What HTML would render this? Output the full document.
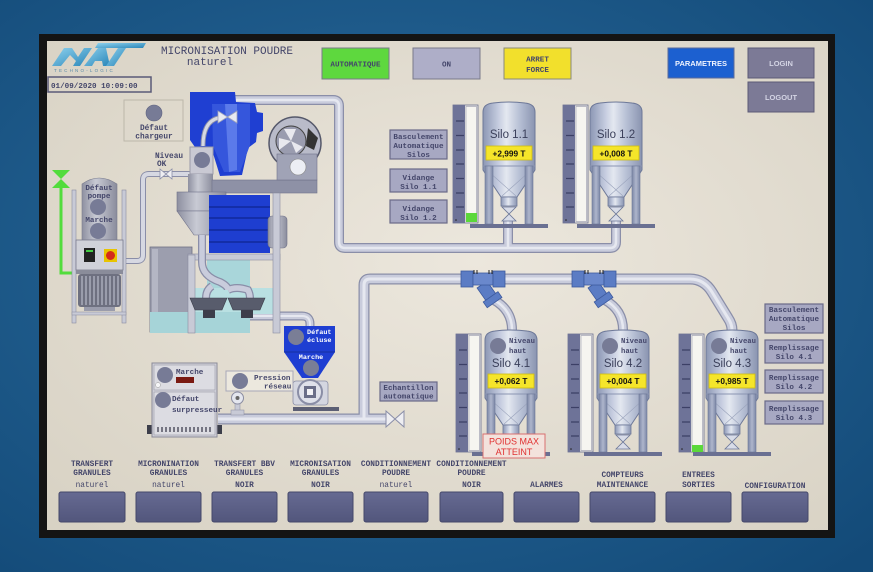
<!DOCTYPE html>
<html><head><meta charset="utf-8">
<style>
html,body{margin:0;padding:0;width:873px;height:572px;overflow:hidden;background:#1d5d8e;}
svg{display:block}
.m{font-family:"Liberation Mono",monospace;font-weight:bold;fill:#44466a}
.c{text-anchor:middle}
.s{font-family:"Liberation Sans",sans-serif}
.w{fill:#ffffff}
</style></head><body>
<svg width="873" height="572" viewBox="0 0 873 572" xmlns="http://www.w3.org/2000/svg" font-size="8">
<defs>
 <radialGradient id="bg" cx="0.45" cy="0.45" r="0.75">
  <stop offset="0" stop-color="#2a6c9e"/><stop offset="1" stop-color="#134a78"/>
 </radialGradient>
 <radialGradient id="scr" cx="0.55" cy="0.45" r="0.75">
  <stop offset="0" stop-color="#ece7dd"/><stop offset="1" stop-color="#d8d2c4"/>
 </radialGradient>
 <linearGradient id="sg" x1="0" x2="1" y1="0" y2="0">
  <stop offset="0" stop-color="#8c97b4"/><stop offset="0.3" stop-color="#c6cde0"/><stop offset="0.45" stop-color="#e4e8f0"/><stop offset="0.7" stop-color="#b7c0d5"/><stop offset="1" stop-color="#8a94b0"/>
 </linearGradient>
 <linearGradient id="leg" x1="0" x2="1" y1="0" y2="0">
  <stop offset="0" stop-color="#7c87a6"/><stop offset="0.5" stop-color="#aeb6cc"/><stop offset="1" stop-color="#7c87a6"/>
 </linearGradient>
 <linearGradient id="gray" x1="0" x2="1" y1="0" y2="0">
  <stop offset="0" stop-color="#8e90a0"/><stop offset="0.4" stop-color="#c8cad4"/><stop offset="1" stop-color="#8a8c9c"/>
 </linearGradient>
 <linearGradient id="nav" x1="0" x2="0" y1="0" y2="1">
  <stop offset="0" stop-color="#666a92"/><stop offset="1" stop-color="#52567c"/>
 </linearGradient>
 <linearGradient id="logo" x1="0" x2="1" y1="0" y2="1">
  <stop offset="0" stop-color="#8fd2ee"/><stop offset="1" stop-color="#2a86b8"/>
 </linearGradient>
 <g id="silo">
  <path d="M0,10 Q0,2 10,1 Q26,-1 42,1 Q52,2 52,10 L52,68 L34,95 L18,95 L0,68 Z" fill="url(#sg)" stroke="#6d7898" stroke-width="1"/>
  <path d="M0,64 L52,64" stroke="#8b95b2" stroke-width="1"/>
  <path d="M6,70 L33,94 M46,70 L19,94" stroke="#9aa3bc" stroke-width="0.6"/>
  <rect x="18" y="95" width="16" height="9" fill="url(#sg)" stroke="#6d7898" stroke-width="0.8"/>
  <path d="M19,105 L33,105 L26,112 Z M19,119 L33,119 L26,112 Z" fill="#d8dce8" stroke="#6d7898" stroke-width="0.8"/>
  <rect x="2" y="64" width="8" height="58" fill="url(#leg)" stroke="#6d7898" stroke-width="0.6"/>
  <rect x="42" y="64" width="8" height="58" fill="url(#leg)" stroke="#6d7898" stroke-width="0.6"/>
  <rect x="-13" y="122" width="78" height="4" fill="#6a7092"/>
  <rect x="3" y="44" width="46" height="14" fill="#f5e52a" stroke="#cdbb10" stroke-width="0.8"/>
 </g>
 <g id="bar">
  <rect x="0" y="0" width="25" height="118" fill="#ebe9e4" stroke="#6a6f90" stroke-width="0.8"/>
  <rect x="0" y="0" width="12" height="118" fill="#6e7398"/>
  <rect x="13" y="1.5" width="10.5" height="115" fill="#f6f5f0" stroke="#9a9cb0" stroke-width="0.6"/>
  <path d="M3,16 H11 M3,30.5 H11 M3,45 H11 M3,59 H11 M3,73.5 H11 M3,88 H11 M3,102 H11" stroke="#3c4066" stroke-width="1.2"/>
  <circle cx="3" cy="115" r="0.8" fill="#222"/>
 </g>
 <g id="yfit">
  <g transform="translate(490,296) rotate(-35)" fill="#5b7cc4" stroke="#3d5a9e" stroke-width="0.8">
   <rect x="-6" y="-14" width="12" height="16"/>
   <rect x="-9" y="1" width="18" height="7"/>
  </g>
  <rect x="461" y="271" width="12" height="16" fill="#5b7cc4" stroke="#3d5a9e" stroke-width="0.8"/>
  <rect x="473" y="273" width="20" height="12" fill="#6a88cc" stroke="#3d5a9e" stroke-width="0.8"/>
  <rect x="493" y="271" width="12" height="16" fill="#5b7cc4" stroke="#3d5a9e" stroke-width="0.8"/>
  <path d="M474,270 V274 M477,270 V274 M489,270 V274 M492,270 V274" stroke="#222" stroke-width="1"/>
 </g>
 <path id="p1" d="M202,148 L202,106 Q202,100 208,100 L333,100 Q339,100 339,106 L339,242 Q339,248 345,248 L610,248 Q616,248 616,242 L616,220 M508,248 L508,220"/>
 <path id="p2" d="M218,419 L390,419 M364,419 L364,285 Q364,279 370,279 L690,279 Q704,279 712,292 L728,318 Q732,324 732,330"/>
 <path id="p3" d="M494,300 Q512,310 512,330 M605,300 Q623,310 623,330"/>
 <path id="p4" d="M126,261 L137,261 Q143,261 143,255 L143,180 Q143,174 149,174 L192,174"/>
 <path id="p5" d="M250,316 L302,316 Q310,316 310,324 L310,328"/>
</defs>

<!-- background -->
<rect x="0" y="0" width="873" height="572" fill="url(#bg)"/>
<rect x="39" y="34" width="796" height="504" fill="#141414"/>
<rect x="47" y="41" width="781" height="489" fill="url(#scr)"/>

<!-- logo -->
<polygon points="52,66 64,48 72,48 78,57 84,48 92,48 80,66 73,66 76,61 70,55 61,66" fill="url(#logo)"/>
<polygon points="84,66 98,48 106,48 110,66 103,66 102,61 95,61 92,66" fill="url(#logo)"/>
<polygon points="98,43 146,43 143,48 95,48" fill="url(#logo)"/>
<polygon points="118,48 126,48 114,66 106,66" fill="url(#logo)"/>
<text x="54" y="72" font-family="Liberation Sans" font-size="4.5" fill="#5a8aa8" letter-spacing="2.2">TECHNO-LOGIC</text>

<!-- title -->
<text x="227" y="54" class="m c" font-size="11" style="font-weight:normal">MICRONISATION POUDRE</text>
<text x="210" y="65" class="m c" font-size="11" style="font-weight:normal">naturel</text>

<!-- date -->
<rect x="48" y="77" width="103" height="15" fill="none" stroke="#5a5a78" stroke-width="1.5"/>
<text x="51" y="88" class="m" font-size="7.6">01/09/2020 10:09:00</text>

<!-- top buttons -->
<rect x="322" y="48" width="67" height="31" fill="#5ed83e" stroke="#7a7a8a"/>
<text x="355.5" y="66.5" class="m c" font-size="7.6">AUTOMATIQUE</text>
<rect x="413" y="48" width="67" height="31" fill="#aeaec8" stroke="#7a7a8a"/>
<text x="446.5" y="66.5" class="m c" font-size="7.6">ON</text>
<rect x="504" y="48" width="67" height="31" fill="#f2e02c" stroke="#8a8a7a"/>
<text x="537.5" y="61.5" class="m c" font-size="7.6">ARRET</text>
<text x="537.5" y="72" class="m c" font-size="7.6">FORCE</text>
<rect x="668" y="48" width="66" height="30" fill="#1c60d0" stroke="#5a6a9a"/>
<text x="701" y="66" class="s c" font-size="7.5" font-weight="bold" fill="#f0f4ff">PARAMETRES</text>
<rect x="748" y="48" width="66" height="30" fill="#7c7a96" stroke="#5c5a76"/>
<text x="781" y="66" class="s c" font-size="7.5" font-weight="bold" fill="#d4d4e4">LOGIN</text>
<rect x="748" y="82" width="66" height="30" fill="#7c7a96" stroke="#5c5a76"/>
<text x="781" y="100" class="s c" font-size="7.5" font-weight="bold" fill="#d4d4e4">LOGOUT</text>

<!-- défaut chargeur -->
<rect x="124" y="100" width="59" height="41" fill="none" stroke="#bcb7aa"/>
<circle cx="154" cy="113" r="8" fill="#777b96" stroke="#5e6280" stroke-width="0.6"/>
<text x="154" y="130" class="m c" font-size="7.8">Défaut</text>
<text x="154" y="138.5" class="m c" font-size="7.8">chargeur</text>

<!-- pipes -->
<g fill="none" stroke-linecap="butt" stroke-linejoin="round">
 <use href="#p1" stroke="#8a8ea8" stroke-width="10"/>
 <use href="#p1" stroke="#c9ccdc" stroke-width="7.5"/>
 <use href="#p1" stroke="#e6e8f0" stroke-width="2.5"/>
 <use href="#p2" stroke="#8a8ea8" stroke-width="11"/>
 <use href="#p2" stroke="#c9ccdc" stroke-width="8.5"/>
 <use href="#p2" stroke="#e6e8f0" stroke-width="3"/>
 <use href="#p3" stroke="#8a8ea8" stroke-width="10"/>
 <use href="#p3" stroke="#c9ccdc" stroke-width="7.5"/>
 <use href="#p3" stroke="#e6e8f0" stroke-width="2.5"/>
 <use href="#p4" stroke="#8a8ea8" stroke-width="6"/>
 <use href="#p4" stroke="#d6d8e2" stroke-width="4"/>
 <use href="#p5" stroke="#8a8ea8" stroke-width="9"/>
 <use href="#p5" stroke="#c9ccdc" stroke-width="6.5"/>
 <use href="#p5" stroke="#e6e8f0" stroke-width="2"/>
</g>

<!-- valve left line -->
<path d="M160,169 L172,179 L172,169 L160,179 Z" fill="#eeeef2" stroke="#8a8ea8" stroke-width="0.8"/>
<text x="155" y="158" class="m" font-size="7.8">Niveau</text>
<text x="157" y="166" class="m" font-size="7.8">OK</text>

<!-- blue cyclone -->
<polygon points="190,92 235,92 236,102 255,103 257,112 263,113 263,131 257,133 256,142 248,148 242,175 220,176 212,150 197,150 190,140" fill="#1f3fd2"/>
<polygon points="212,104 250,104 250,145 240,172 224,172 213,146" fill="#3556dc"/>
<polygon points="225,104 237,104 237,170 229,172" fill="#5b7aea"/>
<path d="M203,146 Q203,122 218,118" fill="none" stroke="#8a8ea8" stroke-width="5"/>
<path d="M203,146 Q203,122 218,118" fill="none" stroke="#d6d8e2" stroke-width="3"/>
<path d="M218,111 L237,123 L237,111 L218,123 Z" fill="#e8eaf2" stroke="#a0a4bc" stroke-width="0.8"/>

<!-- niveau ok box -->
<rect x="190" y="147" width="23" height="27" fill="#c9c9d3" stroke="#9a9aa8"/>
<circle cx="202" cy="160" r="8" fill="#777b96"/>
<rect x="188" y="174" width="25" height="18" fill="url(#gray)"/>

<!-- fan -->
<rect x="212" y="180" width="105" height="13" fill="#8e91a6" stroke="#70728a" stroke-width="0.6"/>
<circle cx="295" cy="143" r="26" fill="#b9bbc9" stroke="#55586a" stroke-width="1.5"/>
<circle cx="291" cy="141" r="15" fill="#9a9caf" stroke="#444" stroke-width="1"/>
<path d="M291,141 L284,129 L296,129 Z M291,141 L303,147 L296,153 Z M291,141 L279,150 L279,138 Z" fill="#e8e8ee"/>
<path d="M308,128 L318,138 L314,150 L306,146 Z" fill="#333"/>
<rect x="277" y="154" width="40" height="26" fill="#a0a3b6" stroke="#70728a" stroke-width="0.6"/>
<circle cx="298" cy="167" r="8" fill="#eceef4" stroke="#888" stroke-width="0.6"/>

<!-- grey hopper -->
<rect x="177" y="192" width="49" height="19" fill="url(#gray)" stroke="#70728a" stroke-width="0.6"/>
<polygon points="177,211 226,211 209,235 194,235" fill="url(#gray)" stroke="#70728a" stroke-width="0.6"/>

<!-- blue stack -->
<rect x="209" y="195" width="61" height="58" fill="#1e3ed0"/>
<path d="M209,207 H270 M209,218 H270 M209,230 H270 M209,242 H270" stroke="#11289a" stroke-width="1.5"/>
<rect x="268" y="216" width="19" height="32" rx="4" fill="url(#gray)" stroke="#70728a" stroke-width="0.6"/>

<!-- base frame -->
<rect x="150" y="247" width="42" height="85" fill="#9c9eae" stroke="#6e7084" stroke-width="0.8"/>
<rect x="152" y="249" width="6" height="80" fill="#b4b6c4"/>
<rect x="207" y="258" width="43" height="36" fill="#a9d6da"/>
<rect x="195" y="288" width="78" height="26" fill="#b9e0e2"/>
<rect x="150" y="312" width="100" height="21" fill="#a6d4d8"/>
<rect x="188" y="254" width="92" height="6" fill="#c8cad6" stroke="#8a8ca0" stroke-width="0.6"/>
<rect x="188" y="255" width="7" height="78" fill="#c8cad6" stroke="#8a8ca0" stroke-width="0.6"/>
<rect x="273" y="193" width="7" height="140" fill="#c8cad6" stroke="#8a8ca0" stroke-width="0.6"/>
<path d="M202,235 L202,262 Q202,276 220,282 Q228,286 228,290 M212,286 Q206,290 206,298 M228,290 Q236,286 248,290 Q250,294 250,298" fill="none" stroke="#8a8ea8" stroke-width="8"/>
<path d="M202,235 L202,262 Q202,276 220,282 Q228,286 228,290 M212,286 Q206,290 206,298 M228,290 Q236,286 248,290 Q250,294 250,298" fill="none" stroke="#c9ccdc" stroke-width="5.5"/>
<path d="M190,298 L227,298 L222,310 L195,310 Z M228,298 L265,298 L260,310 L233,310 Z" fill="#585c6c" stroke="#3c3e4a" stroke-width="0.6"/>
<rect x="203" y="310" width="12" height="8" fill="#3c3e4a"/>
<rect x="241" y="310" width="12" height="8" fill="#3c3e4a"/>

<!-- pump machine left -->
<polygon points="52,170 70,170 61,179" fill="#52dc3c"/>
<polygon points="52,188 70,188 61,179" fill="#52dc3c"/>
<path d="M61,188 L61,273 L76,273" fill="none" stroke="#52dc3c" stroke-width="3"/>
<rect x="72" y="190" width="4" height="133" fill="#c8cad6" stroke="#8a8ca0" stroke-width="0.6"/>
<rect x="122" y="190" width="4" height="133" fill="#c8cad6" stroke="#8a8ca0" stroke-width="0.6"/>
<path d="M82,184 Q99,172 117,184 L117,240 L82,240 Z" fill="url(#gray)" stroke="#7a7c8e" stroke-width="0.6"/>
<text x="99" y="190" class="m c" font-size="7.6">Défaut</text>
<text x="99" y="198" class="m c" font-size="7.6">pompe</text>
<circle cx="98" cy="207" r="8" fill="#777b96"/>
<text x="99" y="222" class="m c" font-size="7.6">Marche</text>
<circle cx="98" cy="231" r="8" fill="#777b96"/>
<rect x="76" y="240" width="47" height="30" fill="#d0d1d9" stroke="#7a7c8e" stroke-width="0.8"/>
<rect x="84" y="248" width="11" height="14" fill="#222"/>
<rect x="86" y="250" width="7" height="2" fill="#4c4"/>
<rect x="104" y="249" width="13" height="13" fill="#e8c400"/>
<circle cx="110.5" cy="255.5" r="4.5" fill="#d42a1a"/>
<rect x="76" y="270" width="47" height="4" fill="#8a8c9a"/>
<rect x="78" y="274" width="43" height="33" rx="3" fill="#6e7080"/>
<path d="M82,276 V305 M86,276 V305 M90,276 V305 M94,276 V305 M98,276 V305 M102,276 V305 M106,276 V305 M110,276 V305 M114,276 V305 M118,276 V305" stroke="#a6a8b6" stroke-width="1.6"/>
<rect x="84" y="307" width="31" height="4" fill="#9a9cac"/>
<rect x="72" y="312" width="54" height="3" fill="#c8cad6" stroke="#8a8ca0" stroke-width="0.5"/>

<!-- défaut écluse hopper -->
<polygon points="284,326 335,326 335,352 318,378 302,378 284,352" fill="#1e3ed2"/>
<path d="M284,352 L335,352" stroke="#1530a0" stroke-width="1"/>
<circle cx="296" cy="337" r="8" fill="#7a7e96"/>
<text x="307" y="334" class="m w" font-size="6.8">Défaut</text>
<text x="307" y="342" class="m w" font-size="6.8">écluse</text>
<text x="311" y="359" class="m w c" font-size="6.8">Marche</text>
<circle cx="311" cy="368" r="8" fill="#7a7e96"/>
<!-- pump -->
<rect x="293" y="381" width="35" height="24" rx="3" fill="#d4d6e0" stroke="#8a8ea6" stroke-width="0.8"/>
<circle cx="310" cy="392" r="12" fill="#dfe1ea" stroke="#8a8ea6" stroke-width="2"/>
<rect x="304" y="386" width="12" height="12" fill="#6a6e88"/>
<rect x="307" y="389" width="6" height="6" fill="#f2f2f6"/>
<rect x="293" y="407" width="46" height="4" fill="#5c5f74"/>

<!-- pression réseau -->
<rect x="226" y="371" width="67" height="20" fill="#ece8de" stroke="#a8a8b8"/>
<circle cx="240" cy="381" r="8" fill="#777b96"/>
<text x="254" y="380" class="m" font-size="7.6">Pression</text>
<text x="264" y="388.5" class="m" font-size="7.6">réseau</text>
<rect x="235" y="402" width="5" height="10" fill="#c8cad6" stroke="#8a8ca0" stroke-width="0.5"/>
<rect x="231" y="410" width="13" height="5" fill="#c8cad6" stroke="#8a8ca0" stroke-width="0.5"/>
<circle cx="237.5" cy="398" r="6" fill="#e4e6ee" stroke="#8a8ca0" stroke-width="1"/>
<circle cx="237.5" cy="398" r="2" fill="#666"/>

<!-- surpresseur -->
<rect x="147" y="425" width="6" height="9" fill="#3c3e4a"/>
<rect x="216" y="425" width="6" height="9" fill="#3c3e4a"/>
<rect x="152" y="363" width="65" height="74" fill="#d2d2da" stroke="#8a8a98"/>
<rect x="154" y="365" width="61" height="25" fill="#dcdce2" stroke="#9a9aa8" stroke-width="0.6"/>
<rect x="154" y="392" width="61" height="43" fill="#dcdce2" stroke="#9a9aa8" stroke-width="0.6"/>
<circle cx="165" cy="375" r="8" fill="#777b96"/>
<circle cx="158" cy="385" r="2.5" fill="#f6f6f8" stroke="#999" stroke-width="0.5"/>
<text x="176" y="374" class="m" font-size="7.6">Marche</text>
<rect x="176" y="377" width="18" height="6" fill="#7a1a12"/>
<circle cx="163" cy="400" r="8" fill="#777b96"/>
<text x="172" y="401" class="m" font-size="7.6">Défaut</text>
<text x="172" y="412" class="m" font-size="7.6">surpresseur</text>
<path d="M158,427 V432 M162,427 V432 M166,427 V432 M170,427 V432 M174,427 V432 M178,427 V432 M182,427 V432 M186,427 V432 M190,427 V432 M194,427 V432 M198,427 V432 M202,427 V432 M206,427 V432 M210,427 V432" stroke="#6a6a78" stroke-width="1.8"/>

<!-- end valve & échantillon -->
<path d="M386,411 L404,427 L404,411 L386,427 Z" fill="#eeeef2" stroke="#8a8ea8" stroke-width="1"/>
<rect x="380" y="382" width="57" height="19" fill="#a7a8c2" stroke="#6a6a88" stroke-width="1.2"/>
<text x="408.5" y="390" class="m c" font-size="7.6">Echantillon</text>
<text x="408.5" y="398.5" class="m c" font-size="7.6">automatique</text>

<!-- upper silos -->
<use href="#bar" x="453" y="105"/>
<rect x="466" y="213" width="11" height="9" fill="#5bd83a"/>
<use href="#silo" x="483" y="102"/>
<text x="509" y="138" class="s c" font-size="11.5" fill="#3a3f5a">Silo 1.1</text>
<text x="509" y="156.5" class="s c" font-size="8.3" font-weight="bold" fill="#111">+2,999 T</text>
<use href="#bar" x="563" y="105"/>
<use href="#silo" x="590" y="102"/>
<text x="616" y="138" class="s c" font-size="11.5" fill="#3a3f5a">Silo 1.2</text>
<text x="616" y="156.5" class="s c" font-size="8.3" font-weight="bold" fill="#111">+0,008 T</text>

<!-- upper left buttons -->
<rect x="390" y="130" width="57" height="29" fill="#a7a8c2" stroke="#6a6a88" stroke-width="1.2"/>
<text x="418.5" y="139" class="m c" font-size="7.6">Basculement</text>
<text x="418.5" y="148" class="m c" font-size="7.6">Automatique</text>
<text x="418.5" y="157" class="m c" font-size="7.6">Silos</text>
<rect x="390" y="169" width="57" height="23" fill="#a7a8c2" stroke="#6a6a88" stroke-width="1.2"/>
<text x="418.5" y="180" class="m c" font-size="7.6">Vidange</text>
<text x="418.5" y="189" class="m c" font-size="7.6">Silo 1.1</text>
<rect x="390" y="200" width="57" height="23" fill="#a7a8c2" stroke="#6a6a88" stroke-width="1.2"/>
<text x="418.5" y="211" class="m c" font-size="7.6">Vidange</text>
<text x="418.5" y="220" class="m c" font-size="7.6">Silo 1.2</text>

<!-- Y fittings -->
<use href="#yfit"/>
<use href="#yfit" x="111"/>

<!-- lower silos -->
<use href="#bar" x="456" y="334"/>
<use href="#silo" x="485" y="330"/>
<circle cx="498" cy="346" r="8" fill="#777b96"/>
<text x="509" y="343" class="m" font-size="7.2">Niveau</text>
<text x="509" y="353" class="m" font-size="7.2">haut</text>
<text x="511" y="367" class="s c" font-size="11.5" fill="#3a3f5a">Silo 4.1</text>
<text x="511" y="384" class="s c" font-size="8.3" font-weight="bold" fill="#111">+0,062 T</text>

<use href="#bar" x="568" y="334"/>
<use href="#silo" x="597" y="330"/>
<circle cx="610" cy="346" r="8" fill="#777b96"/>
<text x="621" y="343" class="m" font-size="7.2">Niveau</text>
<text x="621" y="353" class="m" font-size="7.2">haut</text>
<text x="623" y="367" class="s c" font-size="11.5" fill="#3a3f5a">Silo 4.2</text>
<text x="623" y="384" class="s c" font-size="8.3" font-weight="bold" fill="#111">+0,004 T</text>

<use href="#bar" x="679" y="334"/>
<rect x="692" y="445" width="11" height="7" fill="#5bd83a"/>
<use href="#silo" x="706" y="330"/>
<circle cx="719" cy="346" r="8" fill="#777b96"/>
<text x="730" y="343" class="m" font-size="7.2">Niveau</text>
<text x="730" y="353" class="m" font-size="7.2">haut</text>
<text x="732" y="367" class="s c" font-size="11.5" fill="#3a3f5a">Silo 4.3</text>
<text x="732" y="384" class="s c" font-size="8.3" font-weight="bold" fill="#111">+0,985 T</text>

<!-- poids max -->
<rect x="483" y="434" width="62" height="24" fill="#f3e2dc" stroke="#d87070" stroke-width="1"/>
<text x="514" y="444.5" class="s c" font-size="9" fill="#e03030">POIDS MAX</text>
<text x="514" y="455" class="s c" font-size="9" fill="#e03030">ATTEINT</text>

<!-- right buttons -->
<rect x="765" y="304" width="58" height="29" fill="#a7a8c2" stroke="#6a6a88" stroke-width="1.2"/>
<text x="794" y="312" class="m c" font-size="7.6">Basculement</text>
<text x="794" y="321" class="m c" font-size="7.6">Automatique</text>
<text x="794" y="330" class="m c" font-size="7.6">Silos</text>
<rect x="765" y="340" width="58" height="23" fill="#a7a8c2" stroke="#6a6a88" stroke-width="1.2"/>
<text x="794" y="350" class="m c" font-size="7.6">Remplissage</text>
<text x="794" y="359" class="m c" font-size="7.6">Silo 4.1</text>
<rect x="765" y="370" width="58" height="23" fill="#a7a8c2" stroke="#6a6a88" stroke-width="1.2"/>
<text x="794" y="380" class="m c" font-size="7.6">Remplissage</text>
<text x="794" y="389" class="m c" font-size="7.6">Silo 4.2</text>
<rect x="765" y="401" width="58" height="23" fill="#a7a8c2" stroke="#6a6a88" stroke-width="1.2"/>
<text x="794" y="411" class="m c" font-size="7.6">Remplissage</text>
<text x="794" y="420" class="m c" font-size="7.6">Silo 4.3</text>

<!-- nav labels -->
<g font-size="7.8">
 <text x="92" y="466" class="m c">TRANSFERT</text>
 <text x="92" y="475" class="m c">GRANULES</text>
 <text x="92" y="487" class="m c" style="font-weight:normal">naturel</text>
 <text x="168.5" y="466" class="m c">MICRONINATION</text>
 <text x="168.5" y="475" class="m c">GRANULES</text>
 <text x="168.5" y="487" class="m c" style="font-weight:normal">naturel</text>
 <text x="244.5" y="466" class="m c">TRANSFERT BBV</text>
 <text x="244.5" y="475" class="m c">GRANULES</text>
 <text x="244.5" y="487" class="m c">NOIR</text>
 <text x="320.5" y="466" class="m c">MICRONISATION</text>
 <text x="320.5" y="475" class="m c">GRANULES</text>
 <text x="320.5" y="487" class="m c">NOIR</text>
 <text x="396" y="466" class="m c">CONDITIONNEMENT</text>
 <text x="396" y="475" class="m c">POUDRE</text>
 <text x="396" y="487" class="m c" style="font-weight:normal">naturel</text>
 <text x="471.5" y="466" class="m c">CONDITIONNEMENT</text>
 <text x="471.5" y="475" class="m c">POUDRE</text>
 <text x="471.5" y="487" class="m c">NOIR</text>
 <text x="546.5" y="487" class="m c">ALARMES</text>
 <text x="622.5" y="477" class="m c">COMPTEURS</text>
 <text x="622.5" y="487" class="m c">MAINTENANCE</text>
 <text x="698.5" y="477" class="m c">ENTREES</text>
 <text x="698.5" y="487" class="m c">SORTIES</text>
 <text x="775" y="488" class="m c">CONFIGURATION</text>
</g>

<!-- nav buttons -->
<g fill="url(#nav)" stroke="#45486a" stroke-width="1">
 <rect x="59" y="492" width="66" height="30" rx="2"/>
 <rect x="136" y="492" width="65" height="30" rx="2"/>
 <rect x="212" y="492" width="65" height="30" rx="2"/>
 <rect x="288" y="492" width="65" height="30" rx="2"/>
 <rect x="364" y="492" width="64" height="30" rx="2"/>
 <rect x="440" y="492" width="63" height="30" rx="2"/>
 <rect x="514" y="492" width="65" height="30" rx="2"/>
 <rect x="590" y="492" width="65" height="30" rx="2"/>
 <rect x="666" y="492" width="65" height="30" rx="2"/>
 <rect x="742" y="492" width="66" height="30" rx="2"/>
</g>
</svg>
</body></html>
